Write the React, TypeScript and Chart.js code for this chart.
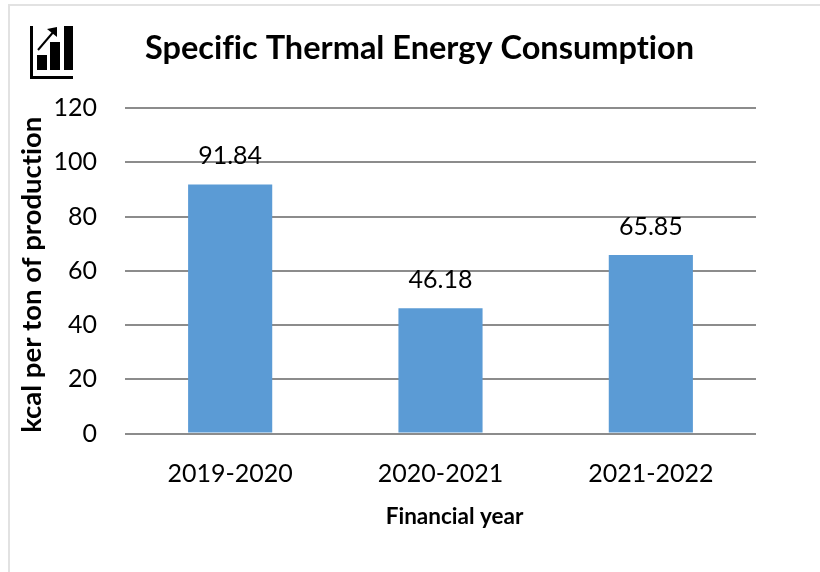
import React, { useEffect, useRef } from "react";
import { Chart, registerables } from "chart.js";

Chart.register(...registerables);

const categories = ["2019-2020", "2020-2021", "2021-2022"];
const consumption = [91.84, 46.18, 65.85];
const valueLabels = ["91.84", "46.18", "65.85"];
const chartTitle = "Specific Thermal Energy Consumption";
const yAxisTitle = "kcal per ton of production";
const xAxisTitle = "Financial year";
const FONT = "Lato, 'Open Sans', sans-serif";

function shiftAxisTitle(scale: any, dx: number, dy: number) {
  if (scale.__shifted) return;
  scale.__shifted = true;
  const original = scale.drawTitle;
  scale.drawTitle = function () {
    this.ctx.save();
    this.ctx.translate(dx, dy);
    original.call(this);
    this.ctx.restore();
  };
}

const decor = {
  id: "decor",
  afterLayout(chart: any) {
    if (chart.titleBlock) {
      chart.titleBlock.left += 32;
      chart.titleBlock.right += 32;
    }
    shiftAxisTitle(chart.scales.x, 14, 0);
    shiftAxisTitle(chart.scales.y, 0, 4);
  },
  beforeDraw(chart: any) {
    const c = chart.ctx;
    c.textRendering = "optimizeSpeed";
    c.save();
    c.fillStyle = "#ffffff";
    c.fillRect(0, 0, 820, 572);
    c.fillStyle = "#e2e2e2";
    c.fillRect(8, 4, 812, 2);
    c.fillRect(8, 4, 2, 568);
    c.fillStyle = "#000000";
    c.fillRect(30, 26, 3, 53);
    c.fillRect(30, 76, 43, 3);
    c.fillRect(37, 55, 10, 15);
    c.fillRect(50, 42, 10, 28);
    c.fillRect(64, 26, 9, 44);
    c.strokeStyle = "#000000";
    c.lineWidth = 2;
    c.beginPath();
    c.moveTo(38, 50);
    c.lineTo(55, 30);
    c.stroke();
    c.beginPath();
    c.moveTo(47, 29);
    c.lineTo(57, 27);
    c.lineTo(57, 37);
    c.closePath();
    c.fill();
    c.restore();
  },
  afterDatasetsDraw(chart: any) {
    const c = chart.ctx;
    const meta = chart.getDatasetMeta(0);
    c.save();
    c.fillStyle = "#000000";
    c.font = `25px ${FONT}`;
    c.textAlign = "center";
    c.textBaseline = "middle";
    meta.data.forEach((bar: any, i: number) => {
      c.fillText(valueLabels[i], bar.x, bar.y - 28);
    });
    c.restore();
  },
};

export default function App() {
  const ref = useRef<HTMLCanvasElement>(null);
  useEffect(() => {
    const chart = new Chart(ref.current!, {
      type: "bar",
      data: {
        labels: categories,
        datasets: [
          {
            label: yAxisTitle,
            data: consumption,
            backgroundColor: "#5b9bd5",
            barPercentage: 0.4,
            categoryPercentage: 1,
          },
        ],
      },
      plugins: [decor],
      options: {
        responsive: false,
        animation: false,
        layout: { padding: { left: 19, right: 64, top: 29, bottom: 42 } },
        plugins: {
          legend: { display: false },
          tooltip: { enabled: false },
          title: {
            display: true,
            text: chartTitle,
            color: "#000000",
            font: { family: FONT, size: 32.5, weight: "bold" },
            padding: { top: 0, bottom: 40 },
          },
        },
        scales: {
          x: {
            afterFit(scale: any) {
              scale.height = 96.5;
            },
            grid: { display: false, drawTicks: false },
            border: { display: false },
            ticks: {
              color: "#000000",
              font: { family: FONT, size: 25 },
              padding: 25,
              maxRotation: 0,
            },
            title: {
              display: true,
              text: xAxisTitle,
              color: "#000000",
              font: { family: FONT, size: 22.5, weight: "bold" },
              padding: { top: 14, bottom: 0 },
            },
          },
          y: {
            min: 0,
            max: 120,
            afterFit(scale: any) {
              scale.width = 106;
            },
            grid: { color: "#8c8c8c", lineWidth: 2, drawTicks: false },
            border: { display: false },
            ticks: {
              stepSize: 20,
              color: "#000000",
              font: { family: FONT, size: 25 },
              padding: 28,
            },
            title: {
              display: true,
              text: yAxisTitle,
              color: "#000000",
              font: { family: FONT, size: 27.5, weight: "bold" },
              padding: { top: -3, bottom: 0 },
            },
          },
        },
      },
    } as any);
    return () => chart.destroy();
  }, []);
  return (
    <canvas
      ref={ref}
      width={820}
      height={572}
      style={{ position: "absolute", left: 0, top: 0, display: "block" }}
    />
  );
}
